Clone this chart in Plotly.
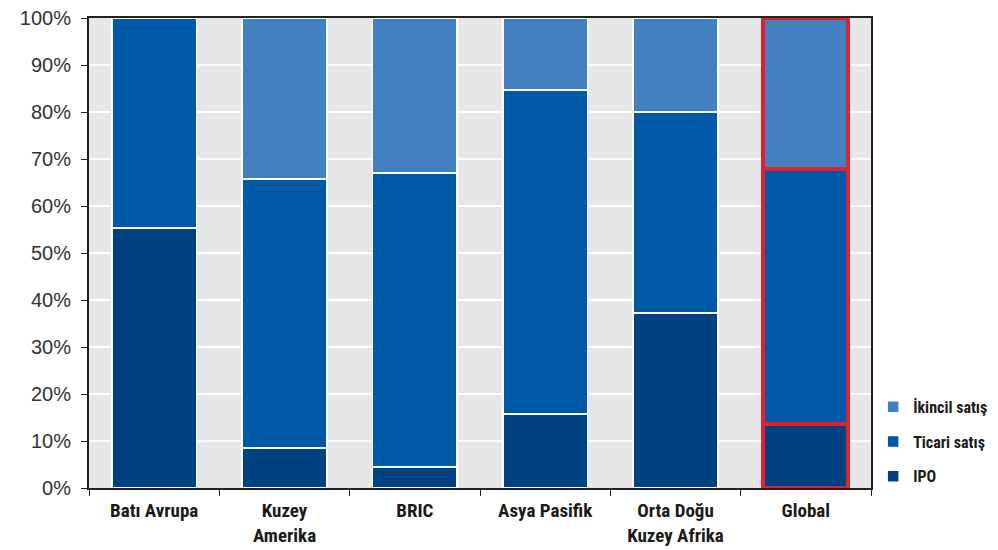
import plotly.graph_objects as go

categories = ["Batı Avrupa", "Kuzey<br>Amerika", "BRIC", "Asya Pasifik", "Orta Doğu<br>Kuzey Afrika", "Global"]
ipo = [55.3, 8.5, 4.5, 15.7, 37.2, 13.6]
ticari = [44.7, 57.2, 62.5, 69.0, 42.8, 54.3]
ikincil = [0.0, 34.3, 33.0, 15.3, 20.0, 32.1]

series = [("IPO", ipo, "#004281"), ("Ticari satış", ticari, "#0059a7"), ("İkincil satış", ikincil, "#4380c0")]

line_colors = ["white"] * 5 + ["#e3202b"]
line_widths = [1.5] * 5 + [4]

fig = go.Figure()
for i, (name, vals, col) in enumerate(series):
    fig.add_trace(go.Bar(
        x=categories, y=vals, name=name, legendgroup=name,
        legendrank=1000 - i,
        marker=dict(color=col, line=dict(color=line_colors, width=line_widths)),
        width=0.65,
    ))

font_cond = "Liberation Sans Narrow, Arial Narrow, Roboto Condensed, sans-serif"
fig.update_layout(
    barmode="stack",
    width=991, height=543,
    margin=dict(l=81, r=128, t=10, b=63, autoexpand=False),
    paper_bgcolor="white", plot_bgcolor="#e6e7e9",
    showlegend=True,
    legend=dict(
        xref="container", yref="container",
        x=0.873, xanchor="left", y=0.297, yanchor="top",
        traceorder="grouped", tracegroupgap=11,
        font=dict(family=font_cond, size=16, color="#1a1a1a", weight="bold"),
        itemwidth=30, bgcolor="rgba(0,0,0,0)",
    ),
)
fig.update_xaxes(
    automargin=False,
    showline=True, linecolor="#222", linewidth=2, mirror=True,
    ticks="outside", tickson="boundaries", ticklen=6, tickcolor="#222",
    tickfont=dict(family=font_cond, size=19, color="#1a1a1a", weight="bold"),
    ticklabelstandoff=4,
    showgrid=False,
)
fig.update_yaxes(
    automargin=False,
    range=[0, 100], tickvals=list(range(0, 101, 10)),
    ticktext=[f"{v}%" for v in range(0, 101, 10)],
    showline=True, linecolor="#222", linewidth=2, mirror=True,
    ticks="outside", ticklen=6, tickcolor="#222",
    tickfont=dict(family="Liberation Sans, Arial, sans-serif", size=20, color="#333"),
    ticklabelstandoff=6, ticklabeloverflow="allow",
    showgrid=True, gridcolor="white", gridwidth=2, zeroline=False,
)
fig.write_html("out.html")
